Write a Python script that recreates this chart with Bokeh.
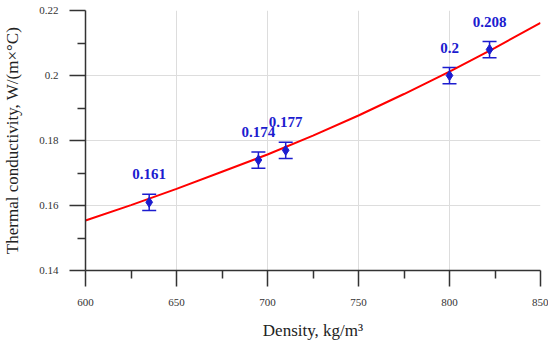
from bokeh.plotting import figure
from bokeh.models import ColumnDataSource, Whisker, FixedTicker, Range1d
from bokeh.embed import file_html
from bokeh.resources import INLINE
from bokeh.core.properties import value

# data
density = [635, 695, 710, 800, 822]
conductivity = [0.161, 0.174, 0.177, 0.200, 0.208]
error = [0.0025, 0.0025, 0.0025, 0.0025, 0.0025]
point_labels = ["0.161", "0.174", "0.177", "0.2", "0.208"]

fit_x = [600, 625, 650, 675, 700, 725, 750, 775, 800, 825, 850]
fit_y = [0.1554, 0.1601, 0.1651, 0.1704, 0.1757, 0.1815, 0.1877, 0.1943, 0.2012, 0.2085, 0.2162]

x_ticks = [600, 650, 700, 750, 800, 850]
x_minor = [625, 675, 725, 775, 825]
y_ticks = [0.14, 0.16, 0.18, 0.20, 0.22]
y_minor = [0.15, 0.17, 0.19, 0.21]
y_tick_labels = ["0.14", "0.16", "0.18", "0.2", "0.22"]

FONT = "Liberation Serif"
BLUE = "#1c1ccf"

p = figure(frame_width=455, frame_height=260, output_backend="svg", toolbar_location=None,
           x_range=Range1d(600, 850), y_range=Range1d(0.14, 0.22),
           min_border_top=10, min_border_right=8, min_border_left=82, min_border_bottom=8)
p.outline_line_color = None

p.line(fit_x, fit_y, line_color="red", line_width=2)

src = ColumnDataSource(dict(x=density, y=conductivity,
                            lo=[c - e for c, e in zip(conductivity, error)],
                            hi=[c + e for c, e in zip(conductivity, error)],
                            lab=point_labels))
w = Whisker(base="x", lower="lo", upper="hi", source=src, line_color=BLUE, line_width=1.5)
w.upper_head.line_color = BLUE
w.lower_head.line_color = BLUE
w.upper_head.line_width = 1.5
w.lower_head.line_width = 1.5
w.upper_head.size = 14
w.lower_head.size = 14
p.add_layout(w)
p.scatter("x", "y", source=src, marker="diamond", size=10, fill_color=BLUE, line_color=BLUE)
p.text("x", "y", text="lab", source=src, y_offset=-28, text_align="center", text_baseline="middle",
       text_font=value(FONT), text_font_style="bold", text_font_size="15px", text_color=BLUE)

for ax in (p.xaxis[0], p.yaxis[0]):
    ax.axis_line_color = "#333333"
    ax.axis_line_width = 1.5
    ax.major_tick_line_color = "#333333"
    ax.minor_tick_line_color = "#333333"
    ax.major_tick_line_width = 1.5
    ax.minor_tick_line_width = 1.5
    ax.major_tick_in = 0
    ax.minor_tick_in = 0
    ax.major_tick_out = 16
    ax.minor_tick_out = 8
    ax.major_label_text_font = FONT
    ax.major_label_text_font_size = "11px"
    ax.major_label_text_color = "#333333"
    ax.axis_label_text_font = FONT
    ax.axis_label_text_font_size = "17px"
    ax.axis_label_text_font_style = "normal"
    ax.axis_label_text_color = "#222222"

p.xaxis.ticker = FixedTicker(ticks=x_ticks, minor_ticks=x_minor)
p.yaxis.ticker = FixedTicker(ticks=y_ticks, minor_ticks=y_minor)
p.yaxis.major_label_overrides = {t: l for t, l in zip(y_ticks, y_tick_labels)}
p.xaxis.major_label_standoff = 12
p.yaxis.major_label_standoff = 11
p.xaxis.axis_label = "Density, kg/m³"
p.yaxis.axis_label = "Thermal conductivity, W/(m×°C)"
p.xaxis.axis_label_standoff = 12
p.yaxis.axis_label_standoff = 14

p.xgrid.ticker = FixedTicker(ticks=x_ticks)
p.ygrid.ticker = FixedTicker(ticks=y_ticks)
p.grid.grid_line_color = "#dddddd"
p.grid.grid_line_width = 1

open("out.html", "w").write(file_html(p, INLINE))
